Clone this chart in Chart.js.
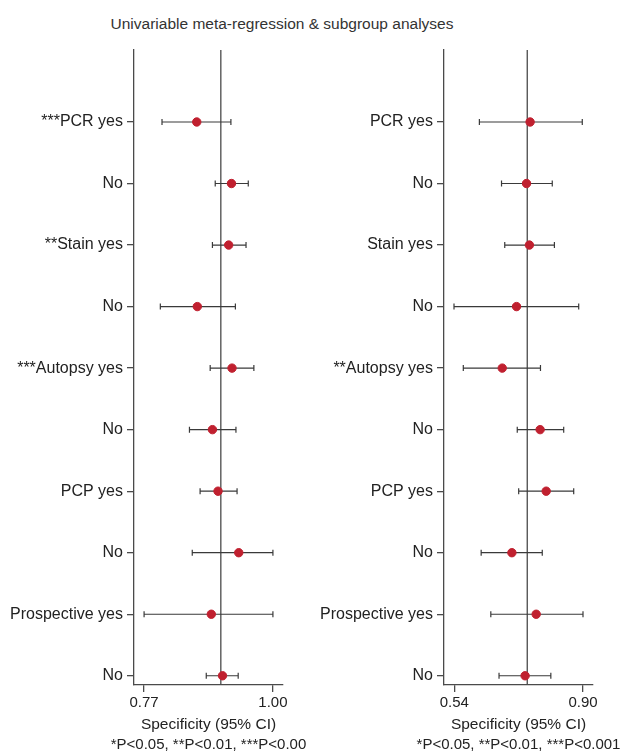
<!DOCTYPE html>
<html lang="en">
<head>
<meta charset="UTF-8">
<title>Univariable meta-regression & subgroup analyses</title>
<script src="https://cdn.jsdelivr.net/npm/chart.js"></script>
<style>
    body { margin: 0; background: #fff; font-family: "Liberation Sans", Arial, sans-serif; }
    .wrap { position: relative; width: 627px; height: 754px; }
    .title { position: absolute; top: 15px; left: 0; width: 564px; text-align: center; font-size: 15.5px; color: #333; }
    .panel { position: absolute; top: 0; height: 754px; }
    #leftBox { left: 0; width: 313px; }
    #rightBox { left: 310px; width: 317px; }
</style>
</head>
<body>
<div class="wrap">
    <div class="title">Univariable meta-regression &amp; subgroup analyses</div>
    <div class="panel" id="leftBox"><canvas id="leftChart"></canvas></div>
    <div class="panel" id="rightBox"><canvas id="rightChart"></canvas></div>
</div>

<script>
    // rows, top to bottom
    const leftLabels = ['***PCR yes', 'No', '**Stain yes', 'No', '***Autopsy yes', 'No', 'PCP yes', 'No', 'Prospective yes', 'No'];
    const rightLabels = ['PCR yes', 'No', 'Stain yes', 'No', '**Autopsy yes', 'No', 'PCP yes', 'No', 'Prospective yes', 'No'];

    // specificity estimates and 95% CI
    const leftEst = [0.864, 0.926, 0.921, 0.865, 0.927, 0.892, 0.902, 0.939, 0.890, 0.910];
    const leftLow = [0.802, 0.897, 0.892, 0.799, 0.888, 0.851, 0.870, 0.856, 0.770, 0.881];
    const leftHigh = [0.925, 0.956, 0.952, 0.933, 0.966, 0.934, 0.936, 1.000, 1.000, 0.938];
    const leftPooled = 0.907;
    const leftTicks = [0.77, 1.00];

    const rightEst = [0.752, 0.742, 0.750, 0.714, 0.674, 0.780, 0.797, 0.701, 0.769, 0.738];
    const rightLow = [0.610, 0.672, 0.681, 0.539, 0.565, 0.716, 0.720, 0.615, 0.642, 0.665];
    const rightHigh = [0.898, 0.814, 0.820, 0.888, 0.781, 0.846, 0.874, 0.786, 0.900, 0.810];
    const rightPooled = 0.744;
    const rightTicks = [0.54, 0.90];

    const axisTitle = 'Specificity (95% CI)';
    const footLeft = '*P<0.05, **P<0.01, ***P<0.00';
    const footRight = '*P<0.05, **P<0.01, ***P<0.001';

    const axisColor = '#4a4a4a';
    const dotColor = '#c0202f';

    // error bars and the pooled line, drawn through the chart scales
    const forestPlugin = {
        id: 'forest',
        beforeDatasetsDraw(chart, args, opts) {
            const ctx = chart.ctx;
            const xs = chart.scales.x, ys = chart.scales.y;
            const area = chart.chartArea;
            ctx.save();
            ctx.strokeStyle = axisColor;
            ctx.lineWidth = 1.3;
            const px = xs.getPixelForValue(opts.pooled);
            ctx.beginPath();
            ctx.moveTo(px, area.top);
            ctx.lineTo(px, area.bottom);
            ctx.stroke();

            ctx.strokeStyle = '#3a3a3a';
            ctx.lineWidth = 1.2;
            const n = opts.low.length;
            for (let i = 0; i < n; i++) {
                const y = ys.getPixelForValue(n - i);
                const x1 = xs.getPixelForValue(opts.low[i]);
                const x2 = xs.getPixelForValue(opts.high[i]);
                ctx.beginPath();
                ctx.moveTo(x1, y);
                ctx.lineTo(x2, y);
                ctx.moveTo(x1, y - 3);
                ctx.lineTo(x1, y + 3);
                ctx.moveTo(x2, y - 3);
                ctx.lineTo(x2, y + 3);
                ctx.stroke();
            }

            // footnote under the axis title, not squeezed to the axis width
            ctx.fillStyle = '#222';
            ctx.font = '15px "Liberation Sans"';
            ctx.textAlign = 'center';
            ctx.textBaseline = 'middle';
            ctx.fillText(opts.foot, (area.left + area.right) / 2, 745);
            ctx.restore();
        }
    };

    function makeChart(id, labels, est, low, high, pooled, ticks, xmin, xmax, padRight, foot) {
        const n = labels.length;
        const points = est.map((v, i) => ({ x: v, y: n - i }));
        return new Chart(document.getElementById(id), {
            type: 'scatter',
            data: {
                datasets: [{
                    data: points,
                    backgroundColor: dotColor,
                    borderColor: dotColor,
                    pointRadius: 4.2,
                    pointHoverRadius: 4.2
                }]
            },
            plugins: [forestPlugin],
            options: {
                responsive: true,
                maintainAspectRatio: false,
                animation: false,
                layout: { padding: { top: 50, right: padRight, bottom: 0, left: 0 } },
                plugins: {
                    legend: { display: false },
                    tooltip: { enabled: false },
                    forest: { low: low, high: high, pooled: pooled, foot: foot }
                },
                scales: {
                    x: {
                        type: 'linear',
                        min: xmin,
                        max: xmax,
                        afterBuildTicks: s => { s.ticks = ticks.map(v => ({ value: v })); },
                        afterFit: s => { s.height = 69; },
                        ticks: {
                            callback: v => Number(v).toFixed(2),
                            color: '#222',
                            font: { family: 'Liberation Sans', size: 15 },
                            padding: 2,
                            maxRotation: 0
                        },
                        grid: { drawOnChartArea: false, drawTicks: true, tickLength: 7, color: axisColor, lineWidth: 1.3 },
                        border: { display: true, color: axisColor, width: 1.3 },
                        title: {
                            display: true,
                            text: axisTitle,
                            color: '#222',
                            font: { family: 'Liberation Sans', size: 15.5, lineHeight: 1.2 },
                            padding: { top: 0, bottom: 20 }
                        }
                    },
                    y: {
                        type: 'linear',
                        min: 0.85,
                        max: 11.17,
                        afterBuildTicks: s => { s.ticks = labels.map((l, i) => ({ value: n - i })); },
                        afterFit: s => { s.width = 134; },
                        ticks: {
                            callback: v => labels[n - v],
                            color: '#222',
                            font: { family: 'Liberation Sans', size: 16 },
                            padding: 4
                        },
                        grid: { drawOnChartArea: false, drawTicks: true, tickLength: 7, color: axisColor, lineWidth: 1.3 },
                        border: { display: true, color: axisColor, width: 1.3 }
                    }
                }
            }
        });
    }

    makeChart('leftChart', leftLabels, leftEst, leftLow, leftHigh, leftPooled, leftTicks, 0.752, 1.018, 30, footLeft);
    makeChart('rightChart', rightLabels, rightEst, rightLow, rightHigh, rightPooled, rightTicks, 0.511, 0.928, 34, footRight);
</script>
</body>
</html>
